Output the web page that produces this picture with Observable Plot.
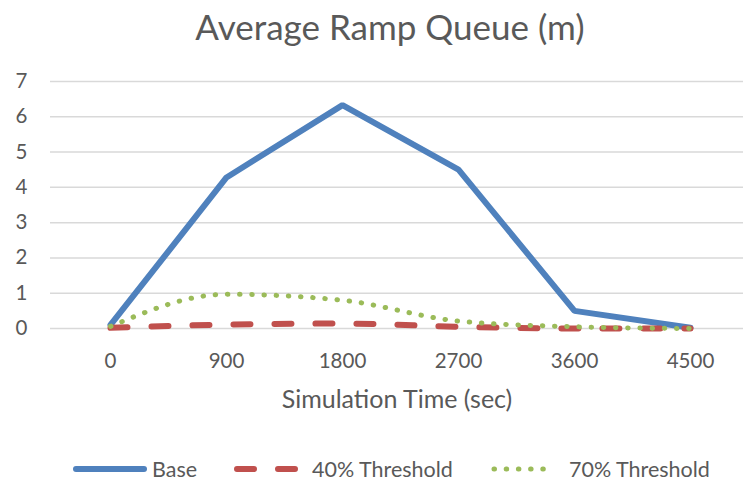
<!DOCTYPE html>
<html>
<head>
<meta charset="utf-8">
<script src="https://cdn.jsdelivr.net/npm/d3@7"></script>
<script src="https://cdn.jsdelivr.net/npm/@observablehq/plot@0.6"></script>
<style>
  body { margin: 0; background: #fff; font-family: Lato, "Open Sans", sans-serif; color: #595959; }
  #title { height: 64px; line-height: 52px; font-size: 35px; text-align: center; padding-left: 37px; box-sizing: border-box; width: 743px; white-space: nowrap; }
  #chart svg { display: block; }
  #legend { position: relative; width: 743px; height: 50px; font-size: 21.5px; }
  #legend .item { position: absolute; top: 0; height: 50px; display: flex; align-items: center; white-space: nowrap; }
  #legend svg { display: block; }
</style>
</head>
<body>
<div id="title">Average Ramp Queue (m)</div>
<div id="chart"></div>
<div id="legend"></div>
<script>
const times = ["0", "900", "1800", "2700", "3600", "4500"];
const base = [0.1, 4.28, 6.33, 4.5, 0.5, 0.02];
const thr40 = [0.02, 0.11, 0.14, 0.05, 0.0, 0.0];
const thr70 = [0.06, 0.97, 0.80, 0.21, 0.05, 0.0];
const yTicks = [0, 1, 2, 3, 4, 5, 6, 7];
const seriesNames = ["Base", "40% Threshold", "70% Threshold"];
const colors = ["#4F81BD", "#C0504D", "#9BBB59"];

const rows = (vals) => times.map((t, i) => ({t, v: vals[i]}));

const chart = Plot.plot({
  width: 743,
  height: 380,
  marginLeft: 50,
  marginRight: 0,
  marginTop: 17,
  marginBottom: 116,
  style: {fontFamily: "Lato, 'Open Sans', sans-serif", color: "#595959", background: "#fff"},
  x: {type: "point", domain: times, range: [108, 691.5], padding: 0},
  y: {domain: [0, 7], range: [264, 17]},
  marks: [
    Plot.ruleY(yTicks, {stroke: "#d9d9d9", strokeWidth: 1.5}),
    Plot.axisY(yTicks, {tickSize: 0, tickPadding: 23, fontSize: 20.5, fill: "#595959", label: null}),
    Plot.axisX(times, {tickSize: 0, tickPadding: 25, fontSize: 20.5, fill: "#595959", label: null}),
    Plot.text(["Simulation Time (sec)"], {frameAnchor: "bottom", dy: 71, lineAnchor: "middle", fontSize: 25, fill: "#595959"}),
    Plot.line(rows(base), {x: "t", y: "v", stroke: colors[0], strokeWidth: 6, strokeLinejoin: "miter"}),
    Plot.line(rows(thr40), {x: "t", y: "v", stroke: colors[1], strokeWidth: 6, strokeDasharray: "17 24", strokeLinecap: "round", curve: "monotone-x"}),
    Plot.line(rows(thr70), {x: "t", y: "v", stroke: colors[2], strokeWidth: 5, strokeDasharray: "0.5 11.7", strokeLinecap: "round", curve: "monotone-x"})
  ]
});
document.getElementById("chart").appendChild(chart);

// legend
const legend = document.getElementById("legend");
const legendLayout = [
  {sample: 73, w: 74, text: 152, dash: null, width: 6},
  {sample: 234, w: 64, text: 312, dash: "17 24", width: 6},
  {sample: 491, w: 66, text: 569, dash: "0.5 11.7", width: 5}
];
seriesNames.forEach((name, i) => {
  const L = legendLayout[i];
  const s = document.createElement("div");
  s.className = "item";
  s.style.left = L.sample + "px";
  const svg = d3.create("svg").attr("width", L.w).attr("height", 50);
  svg.append("line").attr("x1", 3).attr("x2", L.w - 3).attr("y1", 25).attr("y2", 25)
    .attr("stroke", colors[i]).attr("stroke-width", L.width).attr("stroke-linecap", "round")
    .attr("stroke-dasharray", L.dash);
  s.appendChild(svg.node());
  legend.appendChild(s);
  const t = document.createElement("div");
  t.className = "item";
  t.style.left = L.text + "px";
  t.textContent = name;
  legend.appendChild(t);
});
</script>
</body>
</html>
